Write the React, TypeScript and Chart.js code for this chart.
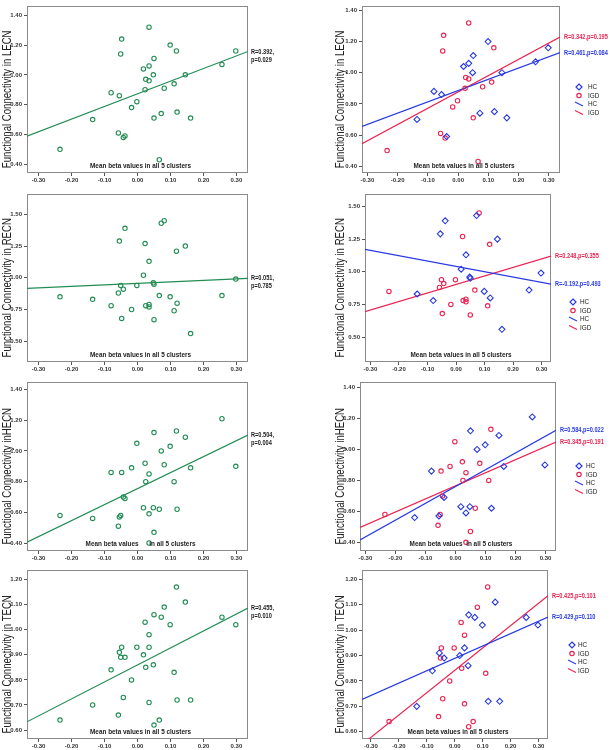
import React, { useEffect, useRef } from 'react';
import { Chart, registerables } from 'chart.js';
Chart.register(...registerables);

// ---------------- DATA ----------------
const subjectGroup = ['IGD','HC','HC','HC','IGD','IGD','HC','IGD','IGD','IGD','IGD','HC','IGD','IGD','IGD','HC','IGD','HC','HC','IGD','IGD','HC','IGD','HC','IGD','IGD','HC','HC','HC','HC','HC'];
const betaValues = [-0.235,-0.136,-0.080,-0.055,-0.058,-0.043,-0.038,-0.048,-0.051,-0.018,-0.002,0.018,0.025,0.023,0.035,0.035,0.035,0.048,0.050,0.050,0.066,0.072,0.081,0.099,0.111,0.118,0.120,0.145,0.161,0.256,0.298];
const lecnValues = [0.50,0.70,0.88,0.86,0.61,0.58,0.59,1.24,1.14,0.78,0.82,1.04,0.97,0.90,1.32,1.06,0.96,1.00,1.11,0.71,0.43,0.74,0.91,1.20,0.94,1.16,0.75,1.00,0.71,1.07,1.16];
const recnValues = [0.85,0.83,0.78,1.29,0.88,0.91,1.39,0.68,0.94,0.75,0.94,1.02,0.78,1.27,0.79,1.13,0.77,0.96,0.95,0.67,0.86,1.43,1.45,0.85,0.74,1.21,0.80,1.25,0.56,0.86,0.99];
const hecnValues = [0.58,0.56,0.86,0.57,0.51,0.70,0.69,0.86,0.58,0.89,1.05,0.63,0.80,0.92,0.85,0.59,0.40,0.63,1.12,0.47,0.62,1.00,0.91,1.03,0.80,1.13,0.62,1.09,0.89,1.21,0.90];
const tecnValues = [0.64,0.70,0.84,0.91,0.66,0.73,0.89,0.93,0.89,0.80,0.93,0.90,0.85,1.03,0.98,0.93,0.71,0.86,1.06,0.62,0.64,1.05,1.09,1.02,0.83,1.17,0.72,1.11,0.72,1.05,1.02];

const xTicks = [-0.3,-0.2,-0.1,0,0.1,0.2,0.3];
const lecnTicks = [0.4,0.6,0.8,1.0,1.2,1.4];
const recnTicks = [0.5,0.75,1.0,1.25,1.5];
const hecnTicks = [0.4,0.6,0.8,1.0,1.2,1.4];
const tecnTicks = [0.6,0.7,0.8,0.9,1.0,1.1,1.2];

// fitted lines: value at the left and right end of the x axis
const lecnFitAll = [0.589, 1.157];
const lecnFitHC = [0.655, 1.129];
const lecnFitIGD = [0.544, 1.229];
const recnFitAll = [0.916, 0.995];
const recnFitHC = [1.171, 0.905];
const recnFitIGD = [0.695, 1.120];
const hecnFitAll = [0.406, 1.104];
const hecnFitHC = [0.415, 1.123];
const hecnFitIGD = [0.496, 1.048];
const tecnFitAll = [0.633, 1.086];
const tecnFitHC = [0.727, 1.051];
const tecnFitIGD = [0.550, 1.135];

const statsAll = [['R=0.392,','p=0.029'],['R=0.051,','p=0.785'],['R=0.504,','p=0.004'],['R=0.455,','p=0.010']];
const statsHC = ['R=0.461,p=0.084','R=-0.192,p=0.493','R=0.584,p=0.022','R=0.429,p=0.110'];
const statsIGD = ['R=0.342,p=0.195','R=0.248,p=0.355','R=0.345,p=0.191','R=0.425,p=0.101'];
const yTitles = ['Functional Connectivity in LECN','Functional Connectivity in RECN','Functional Connectivity inHECN','Functional Connectivity in TECN'];
const xTitlesLeft = ['Mean beta values in all 5 clusters','Mean beta values in all 5 clusters','Mean beta values      in all 5 clusters','Mean beta values in all 5 clusters'];
const xTitlesRight = ['Mean beta values in all 5 clusters','Mean beta values in all 5 clusters','Mean beta values  in all 5 clusters','Mean beta values in all 5 clusters'];
const legendLabels = ['HC','IGD','HC','IGD'];

const rowValues = [lecnValues, recnValues, hecnValues, tecnValues];
const rowTicks = [lecnTicks, recnTicks, hecnTicks, tecnTicks];
const rowFitAll = [lecnFitAll, recnFitAll, hecnFitAll, tecnFitAll];
const rowFitHC = [lecnFitHC, recnFitHC, hecnFitHC, tecnFitHC];
const rowFitIGD = [lecnFitIGD, recnFitIGD, hecnFitIGD, tecnFitIGD];

const LEFT_XRANGE = [-0.335, 0.335];
const RIGHT_XRANGE = [[-0.318,0.337],[-0.319,0.333],[-0.318,0.335],[-0.332,0.334]];
const LEFT_YRANGE = [[0.341,1.465],[0.336,1.664],[0.348,1.452],[0.5645,1.2395]];
const RIGHT_YRANGE = [[0.356,1.431],[0.31,1.598],[0.344,1.438],[0.5716,1.238]];

// ---------------- LAYOUT / STYLE ----------------
const ROW_TOP = [0, 188, 376, 564];
const ROW_H = [188, 188, 188, 186];
const PLOT_TOP = [1, 192, 380, 568];
const PLOT_BOTTOM = [173, 362, 551, 739];
const LEFT_PLOT = [27, 248];
const RIGHT_PLOT = [[362,560],[365,551],[360,556],[362,548]];
const LEGEND_X = [579, 573, 579, 572];
const LEGEND_TEXT_X = [588, 580, 586, 578];
const LEGEND_Y = [87, 302, 466, 645];
const COL_W = 306;
const X_AXIS_H = 10;

const GREEN = 'rgb(34,140,84)';
const BLUE = 'rgb(40,58,228)';
const RED = 'rgb(234,36,82)';
const FONT = '"Liberation Sans", Arial, Helvetica, sans-serif';

function drawText(ctx: CanvasRenderingContext2D, s: string, x: number, y: number, size: number, weight: string, color: string, align: CanvasTextAlign, sx = 1, rot = 0) {
  ctx.save();
  ctx.translate(x, y);
  if (rot) ctx.rotate(rot);
  ctx.scale(sx, 1);
  ctx.font = `${weight} ${size}px ${FONT}`;
  ctx.fillStyle = color;
  ctx.textAlign = align;
  ctx.textBaseline = 'middle';
  ctx.fillText(s, 0, 0);
  ctx.restore();
}

const decorPlugin = {
  id: 'decor',
  beforeDatasetsDraw(chart: any) {
    const { ctx, chartArea: a } = chart;
    ctx.save();
    ctx.strokeStyle = '#8a8a8a';
    ctx.lineWidth = 1;
    ctx.strokeRect(Math.round(a.left) + 0.5, Math.round(a.top) + 0.5, Math.round(a.right - a.left) - 1, Math.round(a.bottom - a.top) - 1);
    ctx.restore();
  },
  afterDraw(chart: any, _args: any, o: any) {
    const { ctx, chartArea: a, scales } = chart;
    const ys = scales.y;
    drawText(ctx, o.xTitle, (a.left + a.right) / 2 + 3, a.bottom - 7, 8, 'bold', '#222', 'center', 0.8);
    drawText(ctx, o.yTitle, o.yTitleX, (a.top + a.bottom) / 2 + 10, 12, 'normal', '#222', 'center', 0.8, -Math.PI / 2);
    if (o.side === 'L') {
      const ye = ys.getPixelForValue(o.fitAll[1]);
      drawText(ctx, o.statsAll[0], a.right + 3, ye, 7.5, 'bold', '#222', 'left', 0.75);
      drawText(ctx, o.statsAll[1], a.right + 3, ye + 8, 7.5, 'bold', '#222', 'left', 0.75);
    } else {
      const yh = ys.getPixelForValue(o.fitHC[1]);
      const yi = ys.getPixelForValue(o.fitIGD[1]);
      drawText(ctx, o.statsHC, a.right + 4, yh, 7.5, 'bold', BLUE, 'left', 0.75);
      drawText(ctx, o.statsIGD, a.right + 4, yi, 7.5, 'bold', RED, 'left', 0.75);
      // legend
      const mx = o.legendX, tx = o.legendTextX;
      const y0 = o.legendY;
      const step = 8.5;
      ctx.save();
      ctx.lineWidth = 1.2;
      // HC marker diamond
      let yy = y0;
      ctx.strokeStyle = BLUE;
      ctx.beginPath();
      ctx.moveTo(mx, yy - 3); ctx.lineTo(mx + 3, yy); ctx.lineTo(mx, yy + 3); ctx.lineTo(mx - 3, yy); ctx.closePath();
      ctx.stroke();
      // IGD marker circle
      yy = y0 + step;
      ctx.strokeStyle = RED;
      ctx.beginPath();
      ctx.arc(mx, yy, 2.2, 0, Math.PI * 2);
      ctx.stroke();
      // HC line
      yy = y0 + step * 2;
      ctx.strokeStyle = BLUE;
      ctx.beginPath();
      ctx.moveTo(mx - 4, yy - 2); ctx.lineTo(mx + 4, yy + 2);
      ctx.stroke();
      // IGD line
      yy = y0 + step * 3;
      ctx.strokeStyle = RED;
      ctx.beginPath();
      ctx.moveTo(mx - 4, yy - 2); ctx.lineTo(mx + 4, yy + 2);
      ctx.stroke();
      ctx.restore();
      o.legendLabels.forEach((s: string, i: number) => {
        drawText(ctx, s, tx, y0 + step * i, 8, 'normal', '#222', 'left', 0.8);
      });
    }
  },
};

function lineDataset(xr: number[], fit: number[], color: string) {
  return {
    data: [{ x: xr[0], y: fit[0] }, { x: xr[1], y: fit[1] }],
    showLine: true,
    pointRadius: 0,
    borderColor: color,
    borderWidth: 1.2,
    backgroundColor: color,
    fill: false,
    tension: 0,
  };
}

function pointDataset(idx: number[], vals: number[], color: string, style: string, radius: number) {
  return {
    data: idx.map((i) => ({ x: betaValues[i], y: vals[i] })),
    showLine: false,
    pointStyle: style,
    pointRadius: radius,
    pointBorderWidth: 1.1,
    pointBorderColor: color,
    pointBackgroundColor: 'rgba(0,0,0,0)',
    borderColor: color,
    backgroundColor: 'rgba(0,0,0,0)',
  };
}

function buildConfig(side: 'L' | 'R', r: number): any {
  const isLeft = side === 'L';
  const vals = rowValues[r];
  const cx = isLeft ? 0 : COL_W;
  const [pl, pr] = isLeft ? LEFT_PLOT : RIGHT_PLOT[r];
  const xr = isLeft ? LEFT_XRANGE : RIGHT_XRANGE[r];
  const yr = isLeft ? LEFT_YRANGE[r] : RIGHT_YRANGE[r];
  const all = betaValues.map((_, i) => i);
  const hc = all.filter((i) => subjectGroup[i] === 'HC');
  const igd = all.filter((i) => subjectGroup[i] === 'IGD');
  const datasets: any[] = isLeft
    ? [pointDataset(all, vals, GREEN, 'circle', 2.2), lineDataset(xr, rowFitAll[r], GREEN)]
    : [
        pointDataset(hc, vals, BLUE, 'rectRot', 3),
        pointDataset(igd, vals, RED, 'circle', 2.2),
        lineDataset(xr, rowFitHC[r], BLUE),
        lineDataset(xr, rowFitIGD[r], RED),
      ];
  const tickFont = { size: 6, weight: 'bold' as const, family: FONT };
  const padTop = PLOT_TOP[r] - ROW_TOP[r];
  const padBottom = ROW_H[r] - (PLOT_BOTTOM[r] - ROW_TOP[r]) - X_AXIS_H;
  const padRight = COL_W - (pr - cx);
  const yAxisW = pl - cx;
  return {
    type: 'scatter',
    data: { datasets },
    plugins: [decorPlugin],
    options: {
      responsive: false,
      animation: false,
      events: [],
      layout: { padding: { left: 0, right: padRight, top: padTop, bottom: padBottom }, autoPadding: false },
      plugins: {
        legend: { display: false },
        tooltip: { enabled: false },
        decor: {
          side,
          xTitle: isLeft ? xTitlesLeft[r] : xTitlesRight[r],
          yTitle: yTitles[r],
          yTitleX: isLeft ? 8 : 35,
          fitAll: rowFitAll[r],
          fitHC: rowFitHC[r],
          fitIGD: rowFitIGD[r],
          statsAll: statsAll[r],
          statsHC: statsHC[r],
          statsIGD: statsIGD[r],
          legendX: LEGEND_X[r] - COL_W,
          legendTextX: LEGEND_TEXT_X[r] - COL_W,
          legendY: LEGEND_Y[r] - ROW_TOP[r],
          legendLabels,
        },
      },
      scales: {
        x: {
          type: 'linear',
          min: xr[0],
          max: xr[1],
          afterBuildTicks: (s: any) => { s.ticks = xTicks.map((v) => ({ value: v })); },
          afterFit: (s: any) => { s.height = X_AXIS_H; },
          ticks: {
            callback: (v: any) => Number(v).toFixed(2),
            font: tickFont,
            color: '#333',
            padding: 1,
            maxRotation: 0,
            autoSkip: false,
          },
          grid: { drawOnChartArea: false, drawTicks: true, tickLength: 3, color: '#555', lineWidth: 1 },
          border: { display: false },
        },
        y: {
          type: 'linear',
          min: yr[0],
          max: yr[1],
          afterBuildTicks: (s: any) => { s.ticks = rowTicks[r].map((v) => ({ value: v })); },
          afterFit: (s: any) => { s.width = yAxisW; },
          ticks: {
            callback: (v: any) => Number(v).toFixed(2),
            font: tickFont,
            color: '#333',
            padding: 2,
            autoSkip: false,
          },
          grid: { drawOnChartArea: false, drawTicks: true, tickLength: 3, color: '#555', lineWidth: 1 },
          border: { display: false },
        },
      },
    },
  };
}

function Panel({ side, row }: { side: 'L' | 'R'; row: number }) {
  const ref = useRef<HTMLCanvasElement>(null);
  useEffect(() => {
    const chart = new Chart(ref.current as HTMLCanvasElement, buildConfig(side, row));
    return () => chart.destroy();
  }, [side, row]);
  return (
    <canvas
      ref={ref}
      width={COL_W}
      height={ROW_H[row]}
      style={{ position: 'absolute', left: side === 'L' ? 0 : COL_W, top: ROW_TOP[row], width: COL_W, height: ROW_H[row] }}
    />
  );
}

export default function App() {
  const rows = [0, 1, 2, 3];
  return (
    <div style={{ position: 'absolute', left: 0, top: 0, width: 612, height: 750, background: '#fff', overflow: 'hidden' }}>
      {rows.map((r) => (
        <React.Fragment key={r}>
          <Panel side="L" row={r} />
          <Panel side="R" row={r} />
        </React.Fragment>
      ))}
    </div>
  );
}
